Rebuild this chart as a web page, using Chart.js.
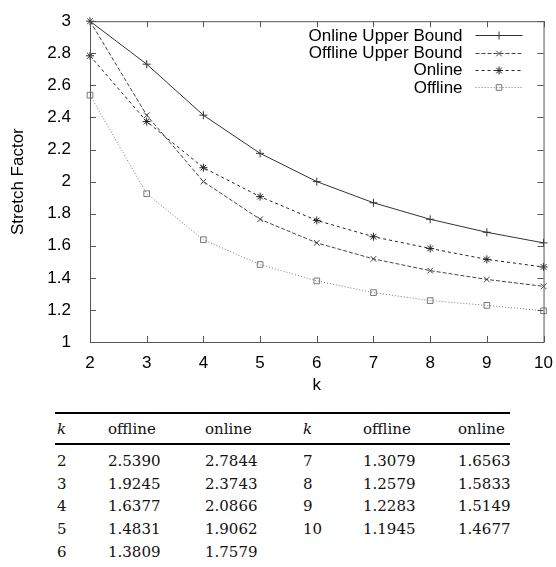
<!DOCTYPE html>
<html>
<head>
<meta charset="utf-8">
<script src="https://cdn.jsdelivr.net/npm/chart.js@4.4.0/dist/chart.umd.min.js"></script>
<style>
  html, body { margin: 0; padding: 0; background: #fff; }
  #wrap { position: relative; width: 556px; height: 567px; }
  #chartBox { position: absolute; left: 0; top: 0; width: 556px; height: 400px; }
  .rule { position: absolute; left: 55px; width: 455px; background: #000; }
  .cell { position: absolute; font-family: "DejaVu Serif", serif; font-size: 15px; line-height: 18px; color: #111; white-space: nowrap; transform: translateY(-50%); }
  .cell.it { font-style: italic; }
</style>
</head>
<body>
<div id="wrap">
  <div id="chartBox"><canvas id="stretchChart" width="556" height="400"></canvas></div>
  <div id="tbl"></div>
</div>
<script>
var ks = [2, 3, 4, 5, 6, 7, 8, 9, 10];
var onlineUpper = [3.0, 2.732, 2.414, 2.176, 2.0, 1.868, 1.765, 1.684, 1.618];
var offlineUpper = [3.0, 2.414, 2.0, 1.765, 1.618, 1.518, 1.445, 1.390, 1.347];
var online = [2.7844, 2.3743, 2.0866, 1.9062, 1.7579, 1.6563, 1.5833, 1.5149, 1.4677];
var offline = [2.5390, 1.9245, 1.6377, 1.4831, 1.3809, 1.3079, 1.2579, 1.2283, 1.1945];
var yTicks = [1, 1.2, 1.4, 1.6, 1.8, 2, 2.2, 2.4, 2.6, 2.8, 3];

var sans = '"Liberation Sans", Arial, sans-serif';

function pts(arr) {
    return arr.map(function (v, i) { return { x: ks[i], y: v }; });
}

function series(label, arr, color, dash, style) {
    return {
        label: label,
        data: pts(arr),
        borderColor: color,
        backgroundColor: 'rgba(0,0,0,0)',
        borderWidth: 1,
        borderDash: dash,
        pointStyle: style,
        pointRadius: 4,
        pointBorderColor: color,
        pointBorderWidth: 1,
        pointBackgroundColor: 'rgba(0,0,0,0)',
        fill: false,
        tension: 0,
        clip: false
    };
}

// gnuplot style frame with inward ticks on all sides, and its legend
var framePlugin = {
    id: 'frame',
    afterDatasetsDraw: function (chart) {
        var ctx = chart.ctx;
        var a = chart.chartArea;
        var xs = chart.scales.x, ys = chart.scales.y;
        ctx.save();
        ctx.strokeStyle = '#555';
        ctx.lineWidth = 1;
        ctx.strokeRect(a.left + 0.5, a.top + 0.5, a.right - a.left, a.bottom - a.top);
        ctx.beginPath();
        ks.forEach(function (k) {
            var px = Math.round(xs.getPixelForValue(k)) + 0.5;
            ctx.moveTo(px, a.bottom); ctx.lineTo(px, a.bottom - 6);
            ctx.moveTo(px, a.top); ctx.lineTo(px, a.top + 6);
        });
        yTicks.forEach(function (v) {
            var py = Math.round(ys.getPixelForValue(v)) + 0.5;
            ctx.moveTo(a.left, py); ctx.lineTo(a.left + 6, py);
            ctx.moveTo(a.right, py); ctx.lineTo(a.right - 6, py);
        });
        ctx.stroke();

        // legend, text right-aligned with the sample on its right
        ctx.font = '17px ' + sans;
        ctx.textAlign = 'right';
        ctx.textBaseline = 'middle';
        chart.data.datasets.forEach(function (ds, i) {
            var y = a.top + 14 + i * 17.3;
            var x0 = a.right - 68, x1 = a.right - 21;
            var ly = Math.round(y) + 0.5;
            ctx.fillStyle = '#000';
            ctx.fillText(ds.label, a.right - 81, y + 1);
            ctx.strokeStyle = ds.borderColor;
            ctx.lineWidth = 1;
            ctx.setLineDash(ds.borderDash);
            ctx.beginPath();
            ctx.moveTo(x0, ly);
            ctx.lineTo(x1, ly);
            ctx.stroke();
            ctx.setLineDash([]);
            ctx.fillStyle = 'rgba(0,0,0,0)';
            Chart.helpers.drawPoint(ctx, {
                pointStyle: ds.pointStyle, radius: 4, borderWidth: 1, rotation: 0
            }, (x0 + x1) / 2, ly);
        });
        ctx.restore();
    }
};

var ctx = document.getElementById('stretchChart').getContext('2d');
var chart = new Chart(ctx, {
    type: 'line',
    data: {
        datasets: [
            series('Online Upper Bound', onlineUpper, '#333', [], 'cross'),
            series('Offline Upper Bound', offlineUpper, '#444', [4, 2], 'crossRot'),
            series('Online', online, '#222', [3, 3], 'star'),
            series('Offline', offline, '#777', [1, 2], 'rect')
        ]
    },
    options: {
        responsive: false,
        animation: false,
        layout: { padding: { left: 0, right: 12, top: 14, bottom: 0 } },
        plugins: { legend: { display: false }, tooltip: { enabled: false } },
        scales: {
            x: {
                type: 'linear', min: 2, max: 10,
                grid: { display: false },
                border: { display: false },
                ticks: {
                    stepSize: 1, padding: 3, color: '#000',
                    font: { family: sans, size: 17 }
                },
                title: {
                    display: true, text: 'k', color: '#000', padding: { top: 4, bottom: 4 },
                    font: { family: sans, size: 17 }
                },
                afterFit: function (s) { s.height = 58; }
            },
            y: {
                min: 1, max: 3,
                grid: { display: false },
                border: { display: false },
                afterBuildTicks: function (s) {
                    s.ticks = yTicks.map(function (v) { return { value: v }; });
                },
                ticks: {
                    padding: 11, color: '#000',
                    font: { family: sans, size: 17 },
                    callback: function (v) { return String(Number(v.toFixed(1))); }
                },
                title: {
                    display: true, text: 'Stretch Factor', color: '#000', padding: { top: 8, bottom: 0 },
                    font: { family: sans, size: 17 }
                },
                afterFit: function (s) { s.width = 90; }
            }
        }
    },
    plugins: [framePlugin]
});

// table under the chart
var tbl = document.getElementById('tbl');
var colX = [57, 108, 205, 303, 363, 458];
var headY = 429, rowY0 = 461, rowStep = 22.7;

function cell(text, x, y, italic) {
    var d = document.createElement('div');
    d.className = 'cell' + (italic ? ' it' : '');
    d.style.left = x + 'px';
    d.style.top = y + 'px';
    d.textContent = text;
    tbl.appendChild(d);
}
function rule(y, h) {
    var r = document.createElement('div');
    r.className = 'rule';
    r.style.top = y + 'px';
    r.style.height = h + 'px';
    tbl.appendChild(r);
}
rule(412, 2);
rule(443, 2);
var heads = ['k', 'offline', 'online', 'k', 'offline', 'online'];
heads.forEach(function (h, i) { cell(h, colX[i], headY, h === 'k'); });
ks.forEach(function (k, i) {
    var half = i < 5 ? 0 : 3;
    var row = i < 5 ? i : i - 5;
    var y = rowY0 + row * rowStep;
    cell(String(k), colX[half], y, false);
    cell(offline[i].toFixed(4), colX[half + 1], y, false);
    cell(online[i].toFixed(4), colX[half + 2], y, false);
});
</script>
</body>
</html>
